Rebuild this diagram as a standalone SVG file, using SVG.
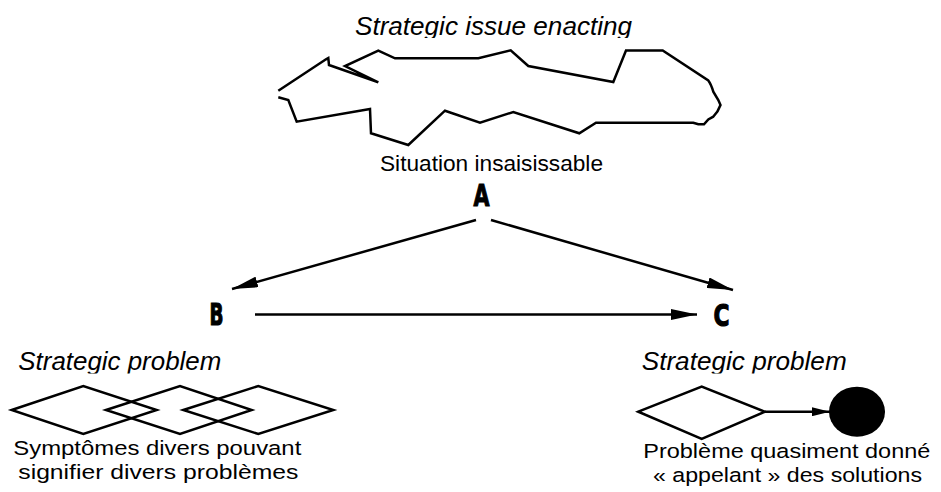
<svg xmlns="http://www.w3.org/2000/svg" width="941" height="492" viewBox="0 0 941 492">
  <style>
    .outline { fill: none; stroke: #000; stroke-width: 2.5; stroke-linejoin: miter; }
    .link { fill: none; stroke: #000; stroke-width: 2.5; }
    .caption { font-family: "Liberation Sans", Arial, sans-serif; font-size: 20.5px; fill: #000; }
    .heading { font-family: "Liberation Sans", Arial, sans-serif; font-style: italic; font-size: 26px; fill: #000; }
    .letter { font-family: "DejaVu Sans", "Liberation Sans", sans-serif; font-weight: bold; font-size: 31px; fill: #000; stroke: #000; stroke-width: 1.2; }
  </style>
  <defs>
    <marker id="head" markerUnits="userSpaceOnUse" markerWidth="26" markerHeight="11" refX="26" refY="5.5" orient="auto">
      <path d="M0,0 L26,5.5 L0,11 z" fill="#000"/>
    </marker>
    <marker id="head-small" markerUnits="userSpaceOnUse" markerWidth="18" markerHeight="9" refX="18" refY="4.5" orient="auto">
      <path d="M0,0 L18,4.5 L0,9 z" fill="#000"/>
    </marker>
    <clipPath id="cut-top"><rect x="0" y="0" width="941" height="38"/></clipPath>
    <clipPath id="cut-mid"><rect x="0" y="340" width="941" height="33.5"/></clipPath>
  </defs>

  <!-- situation A: the elusive situation -->
  <g id="node-A">
    <text class="heading" x="355" y="35" textLength="277" lengthAdjust="spacingAndGlyphs" clip-path="url(#cut-top)">Strategic issue enacting</text>
    <path class="outline" d="M278.3,90.7 L326,59.3 L328.3,58 L329,65 L378.3,82.3 L345,66 L378.3,50.7 L395,58.3 L478.3,58.3 L510.7,50.3 L528.3,66 L613.3,82 L626,50.5 L662.7,50.5 L708.3,80.5 Q711,84 713.3,91.7 L718.3,100 L720.5,105 Q718,112 713.3,116.7 L708.3,119.5 L704,124.3 L698.3,124.3 L693.3,122.7 L596,122.7 L579.3,133.3 L513.3,112 L480,122.7 L445,110.7 L408.3,145 L371,133.3 L370,109 L296.7,121.7 L288.3,100 L278.3,97.3"/>
    <text class="caption" x="380" y="171" textLength="223" lengthAdjust="spacingAndGlyphs" style="font-size:22px">Situation insaisissable</text>
    <text class="letter" x="473.5" y="206" textLength="16" lengthAdjust="spacingAndGlyphs">A</text>
  </g>

  <!-- problem B: several overlapping symptoms -->
  <g id="node-B">
    <text class="letter" x="209.5" y="325" textLength="14" lengthAdjust="spacingAndGlyphs">B</text>
    <text class="heading" x="18.3" y="370" textLength="203" lengthAdjust="spacingAndGlyphs" clip-path="url(#cut-mid)">Strategic problem</text>
    <path class="outline" d="M11.7,410 L83.3,386 L156.7,410 L83.3,434 z"/>
    <path class="outline" d="M106,410 L180,386 L251.7,410 L180,434 z"/>
    <path class="outline" d="M183.3,410 L258.3,386 L333.3,410 L258.3,434 z"/>
    <text class="caption" x="13.3" y="455" textLength="288" lengthAdjust="spacingAndGlyphs">Symptômes divers pouvant</text>
    <text class="caption" x="18.3" y="478.5" textLength="280" lengthAdjust="spacingAndGlyphs">signifier divers problèmes</text>
  </g>

  <!-- problem C: an almost given problem calling for solutions -->
  <g id="node-C">
    <text class="letter" x="713.5" y="326" textLength="16" lengthAdjust="spacingAndGlyphs">C</text>
    <text class="heading" x="641.7" y="370" textLength="205" lengthAdjust="spacingAndGlyphs" clip-path="url(#cut-mid)">Strategic problem</text>
    <path class="outline" d="M638.3,411.7 L701.7,386.7 L765,411.7 L701.7,439 z"/>
    <line class="link" x1="765" y1="411.7" x2="830" y2="411.7" marker-end="url(#head-small)"/>
    <ellipse cx="857" cy="411.7" rx="28" ry="25" fill="#000"/>
    <text class="caption" x="643.3" y="458.3" textLength="287" lengthAdjust="spacingAndGlyphs">Problème quasiment donné</text>
    <text class="caption" x="653" y="481.7" textLength="269" lengthAdjust="spacingAndGlyphs">« appelant » des solutions</text>
  </g>

  <!-- transitions between situations -->
  <g id="connectors">
    <line class="link" x1="476" y1="220" x2="232" y2="289" marker-end="url(#head)"/>
    <line class="link" x1="491" y1="220" x2="733" y2="290" marker-end="url(#head)"/>
    <line class="link" x1="255" y1="314.5" x2="697" y2="314.5" marker-end="url(#head)"/>
  </g>
</svg>
